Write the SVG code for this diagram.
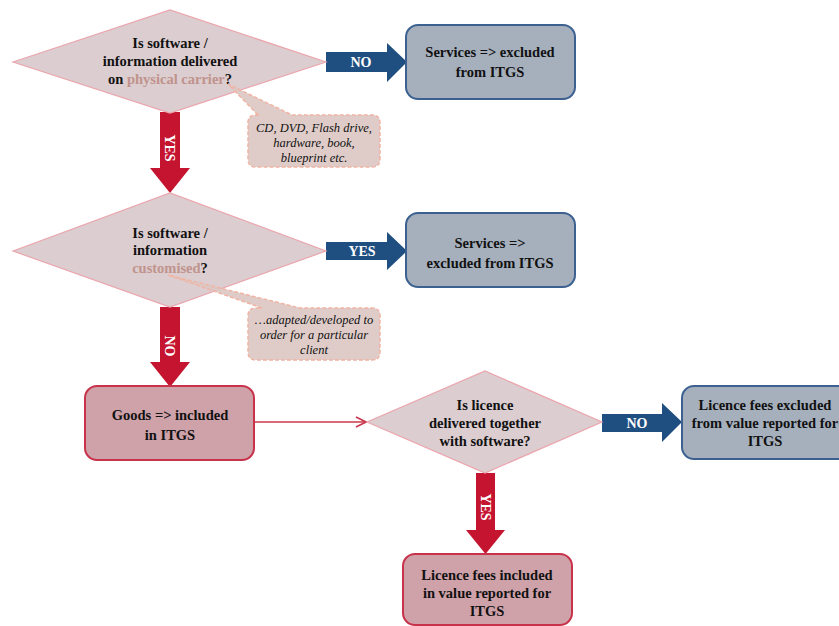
<svg xmlns="http://www.w3.org/2000/svg" width="839" height="626" viewBox="0 0 839 626">
<style>
.dia{fill:#dccdd0;stroke:#eba5ad;stroke-width:1.2}
.bbox{fill:#a6b0bd;stroke:#3c6190;stroke-width:2}
.rbox{fill:#cfa1a9;stroke:#c8324a;stroke-width:2}
.call{fill:#dcc6c2;fill-opacity:0.9;stroke:#f0b4a4;stroke-width:1.5;stroke-dasharray:4 2}
.ra{fill:#c4142f}
.ba{fill:#1f4e80}
.t{font-family:"Liberation Serif","Times New Roman",serif;font-weight:bold;font-size:14.5px;fill:#111;text-anchor:middle}
.tw{font-family:"Liberation Serif","Times New Roman",serif;font-weight:bold;font-size:14px;fill:#fff;text-anchor:middle}
.ti{font-family:"Liberation Serif","Times New Roman",serif;font-style:italic;font-size:12.5px;fill:#111;text-anchor:middle}
.fade{fill:#c0938c}
</style>
<defs>
<marker id="open" viewBox="0 0 12 12" refX="11" refY="6" markerWidth="12" markerHeight="12" markerUnits="userSpaceOnUse" orient="auto">
<path d="M1,1 L11,6 L1,11" fill="none" stroke="#c8384d" stroke-width="1.6"/>
</marker>
</defs>
<g id="connectors">
<polygon class="ra" points="160,112 180,112 180,168 190,168 170,193 150,168 160,168"/>
<text class="tw" transform="translate(170,148) rotate(90)" dy="5">YES</text>
<polygon class="ba" points="326,52 387,52 387,43 407,62 387,82 387,72 326,72"/>
<text class="tw" x="361" y="67">NO</text>
<polygon class="ba" points="326,242 387,242 387,232 407,251 387,270 387,260 326,260"/>
<text class="tw" x="362" y="256">YES</text>
<polygon class="ra" points="160,307 180,307 180,362 190,362 170,387 150,362 160,362"/>
<text class="tw" transform="translate(170,346) rotate(90)" dy="5">NO</text>
<line x1="254" y1="422" x2="366" y2="422" stroke="#c8384d" stroke-width="1.5" marker-end="url(#open)"/>
<polygon class="ba" points="602,414 662,414 662,403 682,422 662,442 662,432 602,432"/>
<text class="tw" x="637" y="428">NO</text>
<polygon class="ra" points="476,473 495,473 495,530 505,530 485.5,554 466,530 476,530"/>
<text class="tw" transform="translate(485.5,507) rotate(90)" dy="5">YES</text>
</g>
<g id="q1">
<polygon class="dia" points="13,62 170,10 326,62 170,113"/>
<text class="t" x="170" y="48">Is software /</text>
<text class="t" x="170" y="66">information delivered</text>
<text class="t" x="170" y="84">on <tspan class="fade">physical carrier</tspan>?</text>
</g>
<g id="callout1">
<path class="call" d="M258,115 L228,84 L292,115 L372,115 Q380,115 380,123 L380,159 Q380,167 372,167 L256,167 Q248,167 248,159 L248,123 Q248,115 256,115 Z"/>
<text class="ti" x="314" y="132">CD, DVD, Flash drive,</text>
<text class="ti" x="314" y="147">hardware, book,</text>
<text class="ti" x="314" y="162">blueprint etc.</text>
</g>
<g id="svc1">
<rect class="bbox" x="406" y="25" width="169" height="74" rx="12"/>
<text class="t" x="490" y="57">Services =&gt; excluded</text>
<text class="t" x="490" y="77">from ITGS</text>
</g>
<g id="q2">
<polygon class="dia" points="13,251 170,193 326,251 170,307"/>
<text class="t" x="170" y="238">Is software /</text>
<text class="t" x="170" y="255">information</text>
<text class="t" x="170" y="273"><tspan class="fade">customised</tspan>?</text>
</g>
<g id="callout2">
<path class="call" d="M262,308 L168,275 L300,308 L372,308 Q380,308 380,316 L380,352 Q380,360 372,360 L256,360 Q248,360 248,352 L248,316 Q248,308 256,308 Z"/>
<text class="ti" x="314" y="324">…adapted/developed to</text>
<text class="ti" x="314" y="339">order for a particular</text>
<text class="ti" x="314" y="354">client</text>
</g>
<g id="svc2">
<rect class="bbox" x="406" y="213" width="169" height="74" rx="12"/>
<text class="t" x="490" y="248">Services =&gt;</text>
<text class="t" x="490" y="268">excluded from ITGS</text>
</g>
<g id="goods">
<rect class="rbox" x="85" y="386" width="169" height="74" rx="12"/>
<text class="t" x="170" y="420">Goods =&gt; included</text>
<text class="t" x="170" y="440">in ITGS</text>
</g>
<g id="q3">
<polygon class="dia" points="367,422 485,371 602,422 485,473"/>
<text class="t" x="485" y="410">Is licence</text>
<text class="t" x="485" y="428">delivered together</text>
<text class="t" x="485" y="446">with software?</text>
</g>
<g id="lic_excl">
<rect class="bbox" x="682" y="386" width="170" height="73" rx="12"/>
<text class="t" x="765" y="410">Licence fees excluded</text>
<text class="t" x="765" y="428">from value reported for</text>
<text class="t" x="765" y="446">ITGS</text>
</g>
<g id="lic_incl">
<rect class="rbox" x="403" y="554" width="169" height="71" rx="12"/>
<text class="t" x="487" y="580">Licence fees included</text>
<text class="t" x="487" y="598">in value reported for</text>
<text class="t" x="487" y="616">ITGS</text>
</g>
</svg>
